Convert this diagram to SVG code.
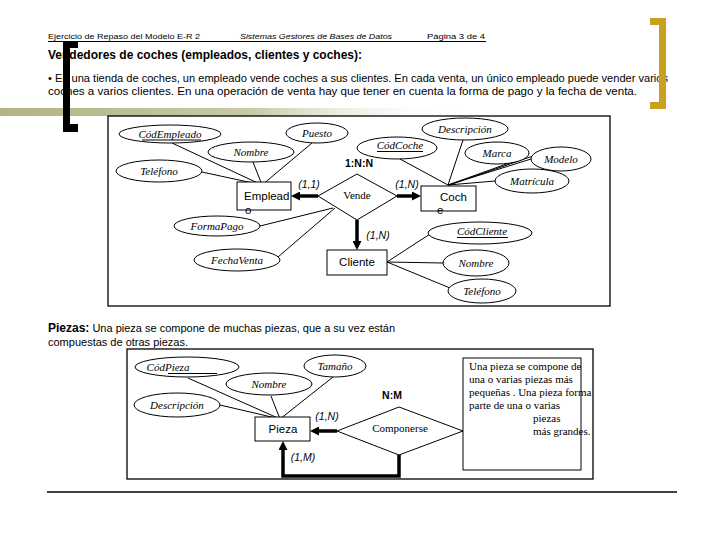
<svg xmlns="http://www.w3.org/2000/svg" width="720" height="540" viewBox="0 0 720 540">
<defs>
<linearGradient id="bar" x1="0" y1="0" x2="1" y2="0">
<stop offset="0" stop-color="#b3b384"/>
<stop offset="0.35" stop-color="#c9c9a6"/>
<stop offset="0.65" stop-color="#ffffff" stop-opacity="0"/>
</linearGradient>
<marker id="ah" markerWidth="9" markerHeight="9" refX="4" refY="4.5" orient="auto" markerUnits="userSpaceOnUse">
<path d="M0,0 L9,4.5 L0,9 z" fill="#000"/>
</marker>
<style>
.hdr{font-family:"Liberation Sans",Arial,sans-serif;font-size:8px;fill:#000}
.body{font-family:"Liberation Sans",Arial,sans-serif;font-size:11px;fill:#000}
.ttl{font-family:"Liberation Sans",Arial,sans-serif;font-size:13px;font-weight:bold;fill:#000}
.attr{fill:#fff;stroke:#000;stroke-width:1}
.at{font-family:"Liberation Serif","Times New Roman",serif;font-style:italic;font-size:11px;fill:#000;text-anchor:middle}
.ent{fill:#fff;stroke:#000;stroke-width:1}
.et{font-family:"Liberation Sans",Arial,sans-serif;font-size:11.5px;fill:#000}
.rel{fill:#fff;stroke:#000;stroke-width:1}
.rt{font-family:"Liberation Serif","Times New Roman",serif;font-size:11px;fill:#000;text-anchor:middle}
.card{font-family:"Liberation Sans",Arial,sans-serif;font-style:italic;font-size:10.5px;fill:#000;text-anchor:middle}
.deg{font-family:"Liberation Sans",Arial,sans-serif;font-weight:bold;font-size:10.5px;fill:#000;text-anchor:middle}
.ln{stroke:#000;stroke-width:1;fill:none}
.thick{stroke:#000;stroke-width:3.5;fill:none}
.frame{fill:#fff;stroke:#000;stroke-width:1.3}
.note{font-family:"Liberation Serif","Times New Roman",serif;font-size:11px;fill:#000}
</style>
</defs>
<rect width="720" height="540" fill="#fff"/>

<!-- header -->
<text class="hdr" x="48" y="39" textLength="152" lengthAdjust="spacingAndGlyphs">Ejercicio de Repaso del Modelo E-R 2</text>
<text class="hdr" x="240" y="39" font-style="italic" textLength="152" lengthAdjust="spacingAndGlyphs">Sistemas Gestores de Bases de Datos</text>
<text class="hdr" x="427" y="39" textLength="58" lengthAdjust="spacingAndGlyphs">Página 3  de 4</text>
<line x1="48" y1="41.5" x2="486" y2="41.5" stroke="#000" stroke-width="1.2"/>

<text class="ttl" x="48" y="59" textLength="314" lengthAdjust="spacingAndGlyphs">Vendedores de coches (empleados, clientes y coches):</text>
<text class="body" x="48" y="82" textLength="620" lengthAdjust="spacingAndGlyphs">•  En una tienda de coches, un empleado vende coches a sus clientes. En cada venta, un único empleado puede vender varios</text>
<text class="body" x="48" y="95" textLength="589" lengthAdjust="spacingAndGlyphs">coches a varios clientes. En una  operación de venta hay que tener en cuenta la forma de pago y la fecha de venta.</text>

<rect x="0" y="108" width="720" height="8" fill="url(#bar)"/>

<text class="body" x="48" y="332"><tspan font-weight="bold" font-size="12px">Piezas:</tspan> Una pieza se compone de muchas piezas, que a su vez están</text>
<text class="body" x="48" y="346">compuestas de otras piezas.</text>

<!-- frames -->
<rect class="frame" x="108" y="116" width="502" height="190"/>
<rect class="frame" x="127" y="349" width="466" height="130"/>

<g id="connectors">
<!-- Empleado attributes -->
<line class="ln" x1="172" y1="143" x2="262" y2="185"/>
<line class="ln" x1="202" y1="172" x2="262" y2="185"/>
<line class="ln" x1="253" y1="162" x2="262" y2="185"/>
<line class="ln" x1="312" y1="143" x2="262" y2="185"/>
<!-- Vende attributes -->
<line class="ln" x1="260" y1="226" x2="333" y2="208"/>
<line class="ln" x1="278" y1="257" x2="335" y2="208"/>
<!-- Coche attributes -->
<line class="ln" x1="400" y1="159" x2="448" y2="185"/>
<line class="ln" x1="463" y1="140" x2="448" y2="185"/>
<line class="ln" x1="526" y1="157" x2="448" y2="185"/>
<line class="ln" x1="531" y1="159" x2="448" y2="185"/>
<line class="ln" x1="533" y1="156" x2="449" y2="185"/>
<line class="ln" x1="495" y1="181" x2="448" y2="185"/>
<!-- Cliente attributes -->
<line class="ln" x1="387" y1="262" x2="430" y2="234"/>
<line class="ln" x1="387" y1="262" x2="443" y2="263"/>
<line class="ln" x1="387" y1="262" x2="450" y2="288"/>
<!-- Vende relations -->
<line class="thick" x1="318" y1="196" x2="296" y2="196" marker-end="url(#ah)"/>
<line class="thick" x1="397" y1="196" x2="416" y2="196" marker-end="url(#ah)"/>
<line class="thick" x1="357" y1="220" x2="357" y2="245" marker-end="url(#ah)"/>
<!-- Pieza attributes -->
<line class="ln" x1="188" y1="378" x2="280" y2="419"/>
<line class="ln" x1="220" y1="405" x2="280" y2="419"/>
<line class="ln" x1="271" y1="396" x2="280" y2="419"/>
<line class="ln" x1="333" y1="377" x2="280" y2="419"/>
<!-- Componerse -->
<line class="thick" x1="337" y1="431" x2="315" y2="431" marker-end="url(#ah)"/>
<polyline class="thick" points="399,455 399,476 283,476 283,446" marker-end="url(#ah)"/>
</g>

<!-- Empleado -->
<g id="CodEmpleado"><ellipse class="attr" cx="170" cy="134" rx="51" ry="9"/><text class="at" x="170" y="138">CódEmpleado</text><line x1="142" y1="140" x2="201" y2="140" stroke="#000" stroke-width="1"/></g>
<g id="NombreEmp"><ellipse class="attr" cx="251" cy="152" rx="43" ry="10"/><text class="at" x="251" y="156">Nombre</text></g>
<g id="Puesto"><ellipse class="attr" cx="317" cy="133" rx="31" ry="10"/><text class="at" x="317" y="137">Puesto</text></g>
<g id="TelefonoEmp"><ellipse class="attr" cx="159" cy="171" rx="43" ry="11"/><text class="at" x="159" y="175">Teléfono</text></g>
<g id="Empleado"><rect class="ent" x="237" y="182" width="54" height="28"/><text class="et" x="244" y="200">Emplead</text><text class="et" x="245" y="214">o</text></g>

<g id="Vende"><polygon class="rel" points="357,174 397,196 357,220 318,196"/><text class="rt" x="357" y="199">Vende</text></g>
<text class="deg" x="359" y="167">1:N:N</text>
<text class="card" x="309" y="188">(1,1)</text>
<text class="card" x="407" y="188">(1,N)</text>
<text class="card" x="378" y="239">(1,N)</text>

<g id="FormaPago"><ellipse class="attr" cx="217" cy="226" rx="43" ry="10"/><text class="at" x="217" y="230">FormaPago</text></g>
<g id="FechaVenta"><ellipse class="attr" cx="237" cy="260" rx="43" ry="11"/><text class="at" x="237" y="264">FechaVenta</text></g>

<!-- Coche -->
<g id="Descripcion"><ellipse class="attr" cx="465" cy="129" rx="43" ry="11"/><text class="at" x="465" y="133">Descripción</text></g>
<g id="CodCoche"><ellipse class="attr" cx="397" cy="148" rx="40" ry="11"/><text class="at" x="400" y="149">CódCoche</text><line x1="377" y1="151.5" x2="423" y2="151.5" stroke="#000" stroke-width="1.2"/></g>
<g id="Marca"><ellipse class="attr" cx="497" cy="153" rx="32" ry="11"/><text class="at" x="497" y="157">Marca</text></g>
<g id="Modelo"><ellipse class="attr" cx="561" cy="159" rx="30" ry="12"/><text class="at" x="561" y="163">Modelo</text></g>
<g id="Matricula"><ellipse class="attr" cx="532" cy="181" rx="37" ry="12"/><text class="at" x="532" y="185">Matrícula</text></g>
<g id="Coche"><rect class="ent" x="421" y="186" width="55" height="25"/><text class="et" x="440" y="201">Coch</text><text class="et" x="437" y="214">e</text></g>

<!-- Cliente -->
<g id="Cliente"><rect class="ent" x="327" y="250" width="60" height="25"/><text class="et" x="357" y="266" text-anchor="middle">Cliente</text></g>
<g id="CodCliente"><ellipse class="attr" cx="480" cy="233" rx="52" ry="11"/><text class="at" x="482" y="235">CódCliente</text><line x1="457" y1="237.5" x2="508" y2="237.5" stroke="#000" stroke-width="1"/></g>
<g id="NombreCli"><ellipse class="attr" cx="476" cy="263" rx="33" ry="13"/><text class="at" x="476" y="267">Nombre</text></g>
<g id="TelefonoCli"><ellipse class="attr" cx="482" cy="291" rx="34" ry="12"/><text class="at" x="482" y="295">Teléfono</text></g>

<!-- Piezas -->
<g id="CodPieza"><ellipse class="attr" cx="187" cy="367" rx="52" ry="10"/><text class="at" x="168" y="371" text-anchor="start">CódPieza</text><line x1="168" y1="373.5" x2="217" y2="373.5" stroke="#000" stroke-width="1.2"/></g>
<g id="NombrePieza"><ellipse class="attr" cx="269" cy="384" rx="43" ry="11"/><text class="at" x="269" y="388">Nombre</text></g>
<g id="Tamano"><ellipse class="attr" cx="335" cy="366" rx="31" ry="11"/><text class="at" x="335" y="370">Tamaño</text></g>
<g id="DescripcionPieza"><ellipse class="attr" cx="177" cy="405" rx="43" ry="12"/><text class="at" x="177" y="409">Descripción</text></g>
<g id="Pieza"><rect class="ent" x="255" y="417" width="55" height="24"/><text class="et" x="283" y="433" text-anchor="middle">Pieza</text></g>

<g id="Componerse"><polygon class="rel" points="399,407 463,431 399,455 337,431"/><text class="rt" x="400" y="432">Componerse</text></g>
<text class="deg" x="392" y="399">N:M</text>
<text class="card" x="327" y="420">(1,N)</text>
<text class="card" x="303" y="461">(1,M)</text>

<g id="Nota">
<rect fill="#fff" stroke="#000" stroke-width="1" x="463" y="358" width="118" height="112"/>
<text class="note" x="469" y="370">Una pieza se compone  de</text>
<text class="note" x="469" y="383">una o varias piezas  más</text>
<text class="note" x="469" y="396">pequeñas . Una pieza  forma</text>
<text class="note" x="469" y="409">parte de una o  varias</text>
<text class="note" x="533" y="422">piezas</text>
<text class="note" x="533" y="435">más  grandes.</text>
</g>

<line x1="47" y1="492" x2="677" y2="492" stroke="#000" stroke-width="1.5"/>

<!-- brackets -->
<path d="M63,42 H78 V48 H70 V124 H78 V132 H63 Z" fill="#000"/>
<path d="M650,18 H666 V109 H650 V102 H659 V25 H650 Z" fill="#c9a020"/>
</svg>
